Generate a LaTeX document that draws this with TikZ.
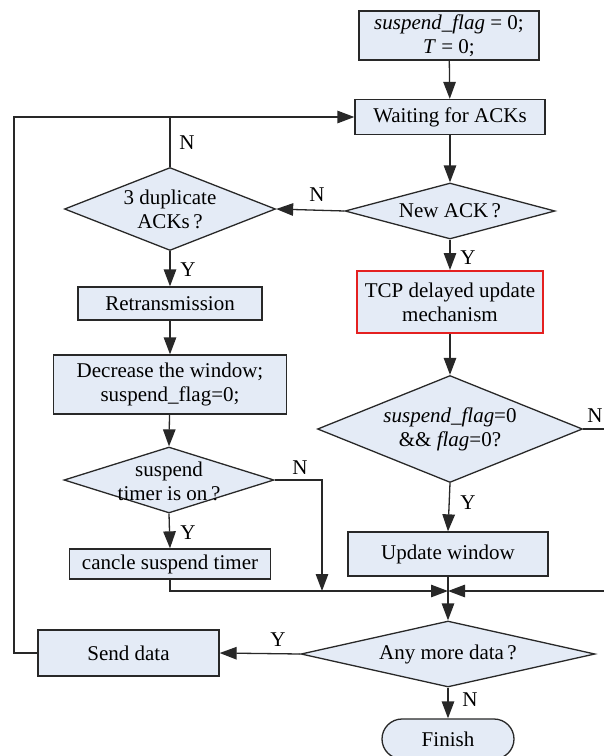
\documentclass[tikz,border=0pt]{standalone}
\usepackage{fontspec}
\setmainfont{Liberation Serif}
\usetikzlibrary{arrows.meta,shapes.geometric,shapes.misc}
\definecolor{boxfill}{RGB}{228,235,246}
\definecolor{edgecol}{RGB}{40,40,40}
\definecolor{redline}{RGB}{228,32,32}
\begin{document}
\begin{tikzpicture}[x=1pt,y=-1pt, font=\fontsize{21}{24}\selectfont, line width=1.3pt,
 box/.style={draw=edgecol, fill=boxfill, inner sep=0pt, align=center},
 dia/.style={draw=edgecol, fill=boxfill, diamond, inner sep=0pt},
 txt/.style={align=center, inner sep=0pt},
 lbl/.style={inner sep=0pt},
 arr/.style={draw=edgecol, -{Triangle[length=17pt,width=12.5pt]}},
 ln/.style={draw=edgecol}]
\useasboundingbox (0,0) rectangle (604,756);

% boxes
\node[box, minimum width=180pt, minimum height=49pt] (init) at (449,35.5)
  {\textit{suspend\_flag} = 0;\\\textit{T} = 0;};
\node[box, minimum width=190pt, minimum height=35pt] (wait) at (450,117) {Waiting for ACKs};
\node[dia, minimum width=210pt, minimum height=56pt] (newack) at (450,211) {};
\node[txt] (newackT) at (450,211) {New ACK\,?};
\node[dia, minimum width=211pt, minimum height=83pt] (dup) at (170,209) {};
\node[txt] (dupT) at (170,209) {3 duplicate\\ACKs\,?};
\node[box, minimum width=184pt, minimum height=33pt] (retx) at (170,303.5) {Retransmission};
\node[box, minimum width=233pt, minimum height=59pt] (dec) at (170,384.5) {Decrease the window;\\suspend\_flag=0;};
\node[dia, minimum width=210pt, minimum height=66pt] (susp) at (169,480) {};
\node[txt] (suspT) at (169,481) {suspend\\timer is on\,?};
\node[box, minimum width=201pt, minimum height=30pt] (cancel) at (170,564) {cancle suspend timer};
\node[box, draw=redline, line width=2pt, minimum width=186pt, minimum height=62pt] (tcp) at (450,302)
  {TCP delayed update\\mechanism};
\node[dia, minimum width=265pt, minimum height=107pt] (sflag) at (450,429) {};
\node[txt] (sflagT) at (450,429) {\textit{suspend\_flag}=0\\\&\& \textit{flag}=0?};
\node[box, minimum width=200pt, minimum height=44pt] (upd) at (448,554) {Update window};
\node[dia, minimum width=294pt, minimum height=66pt] (more) at (448,654) {};
\node[txt] (moreT) at (448,654) {Any more data\,?};
\node[box, minimum width=181pt, minimum height=46pt] (send) at (128.5,653) {Send data};
\node[box, rounded rectangle, minimum width=132pt, minimum height=40pt] (finish) at (448,739) {Finish};

% junction and helper points
\coordinate (J) at (448,591);
\coordinate (loopT) at (14,117);
\coordinate (loopB) at (14,653);
\coordinate (dupUp) at (170,117);
\coordinate (suspR) at (322,480);
\coordinate (suspD) at (322,591);
\coordinate (cancD) at (170,591);
\coordinate (sflagR) at (620,429);
\coordinate (sflagD) at (620,591);

% connectors
\draw[arr] (init) -- (wait);
\draw[arr] (wait) -- (newack);
\draw[arr] (newack.west) -- (dup.east);
\draw[ln] (dup.north) -- (dupUp);
\draw[arr] (send.west) -- (loopB) -- (loopT) -- (wait.west);
\draw[arr] (dup.south) -- (retx.north);
\draw[arr] (retx) -- (dec);
\draw[arr] (dec) -- (susp.north);
\draw[arr] (susp.south) -- (cancel.north);
\draw[arr] (susp.east) -- (suspR) -- (suspD);
\draw[arr] (cancel.south) -- (cancD) -- (J);
\draw[arr] (newack.south) -- (tcp.north);
\draw[arr] (tcp) -- (sflag.north);
\draw[arr] (sflag.south) -- (upd.north);
\draw[arr] (sflag.east) -- (sflagR) -- (sflagD) -- (J);
\draw[arr] (upd.south) -- (more.north);
\draw[arr] (more.west) -- (send.east);
\draw[arr] (more.south) -- (finish.north);

% labels
\node[lbl] (l1) at (317,195) {N};
\node[lbl] (l2) at (187,143) {N};
\node[lbl] (l3) at (188,270) {Y};
\node[lbl] (l4) at (188,533) {Y};
\node[lbl] (l5) at (300,468) {N};
\node[lbl] (l6) at (468,258) {Y};
\node[lbl] (l7) at (595,416) {N};
\node[lbl] (l8) at (468,503) {Y};
\node[lbl] (l9) at (278,640) {Y};
\node[lbl] (l10) at (470,700) {N};
\end{tikzpicture}
\end{document}
